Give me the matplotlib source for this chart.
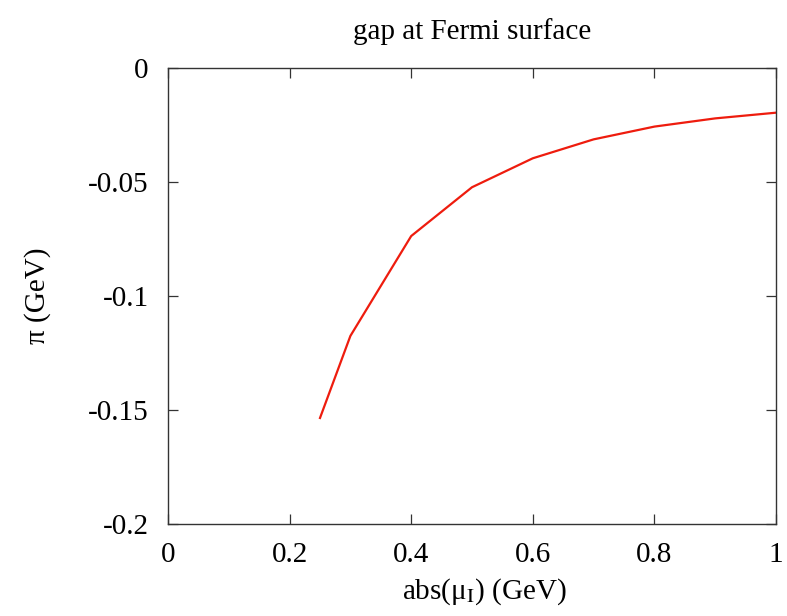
import matplotlib
matplotlib.use("Agg")
import matplotlib.pyplot as plt

mu_I = [0.25, 0.3, 0.4, 0.5, 0.6, 0.7, 0.8, 0.9, 1.0]
gap = [-0.1535, -0.1175, -0.0737, -0.0523, -0.0396, -0.0313, -0.0257, -0.0221, -0.0196]
xticks = [0, 0.2, 0.4, 0.6, 0.8, 1]
xticklabels = ["0", "0.2", "0.4", "0.6", "0.8", "1"]
yticks = [0, -0.05, -0.1, -0.15, -0.2]
yticklabels = ["0", "-0.05", "-0.1", "-0.15", "-0.2"]

plt.rcParams['font.family'] = ['Liberation Serif', 'DejaVu Serif']
plt.rcParams['mathtext.fontset'] = 'stix'

fs = 21
fig = plt.figure(figsize=(7.87, 6.16), dpi=100)
ax = fig.add_axes([168/787, 1-524/616, (776-168)/787, (524-68)/616])
ax.plot(mu_I, gap, color='#ee1c0e', lw=1.6)
ax.set_xlim(0, 1)
ax.set_ylim(-0.2, 0)
ax.set_xticks(xticks)
ax.set_xticklabels(xticklabels)
ax.set_yticks(yticks)
ax.set_yticklabels(yticklabels)
ax.tick_params(direction='in', length=7, width=0.9, top=True, right=True,
               labelsize=fs, colors='#333333', labelcolor='black')
ax.tick_params(axis='y', pad=14)
ax.tick_params(axis='x', pad=13)
for s in ax.spines.values():
    s.set_linewidth(1.0)
    s.set_color('#333333')
ax.set_xlabel(r'abs(μ$_{\mathrm{I}}$) (GeV)', fontsize=fs)
ax.xaxis.set_label_coords(0.52, -0.115)
ax.set_ylabel('π (GeV)', fontsize=fs)
ax.yaxis.set_label_coords(-0.192, 0.5)
ax.set_title('gap at Fermi surface', fontsize=fs, pad=21)
fig.savefig('out.png', dpi=100)
